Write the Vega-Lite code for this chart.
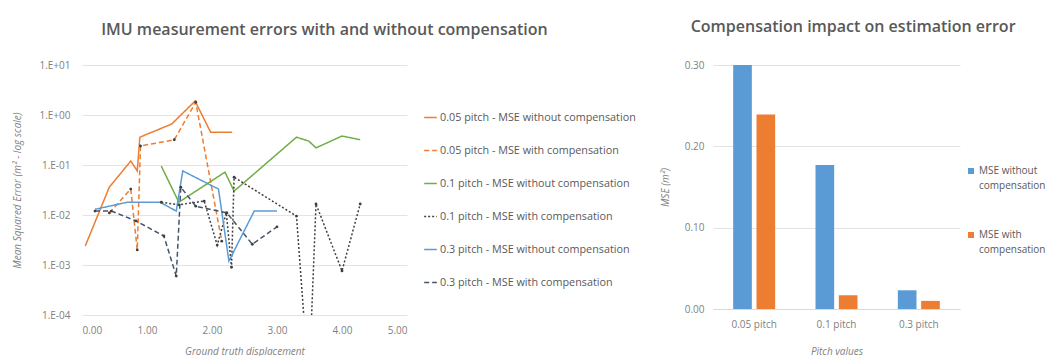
{
  "$schema": "https://vega.github.io/schema/vega-lite/v6.json",
  "padding": {"left": 12, "top": 19, "right": 0, "bottom": 0},
  "spacing": 24,
  "resolve": {"scale": {"color": "independent", "strokeDash": "independent"}, "legend": {"color": "independent", "strokeDash": "independent"}},
  "config": {
    "font": "Open Sans",
    "view": {"stroke": null},
    "axis": {"labelColor": "#7f7f7f", "labelFontSize": 10, "titleColor": "#7f7f7f", "titleFontSize": 10, "titleFontStyle": "italic", "titleFontWeight": "normal", "gridColor": "#e3e3e3", "ticks": false, "domain": false},
    "legend": {"labelColor": "#595959", "labelFontSize": 10.8, "labelLimit": 0, "padding": 0, "titleFontSize": 10},
    "style": {"guide-label": {"lineHeight": 15}},
    "title": {"color": "#595959", "fontSize": 16, "fontWeight": 600, "frame": "bounds", "anchor": "middle"}
  },
  "hconcat": [
    {
      "title": {"text": "IMU measurement errors with and without compensation", "offset": 22},
      "width": 325,
      "height": 250,
      "data": {"values": [
        {"s": "0.05 pitch - MSE without compensation", "x": 0.05, "y": 0.0024},
        {"s": "0.05 pitch - MSE without compensation", "x": 0.42, "y": 0.036},
        {"s": "0.05 pitch - MSE without compensation", "x": 0.75, "y": 0.12},
        {"s": "0.05 pitch - MSE without compensation", "x": 0.85, "y": 0.076},
        {"s": "0.05 pitch - MSE without compensation", "x": 0.89, "y": 0.36},
        {"s": "0.05 pitch - MSE without compensation", "x": 1.38, "y": 0.66},
        {"s": "0.05 pitch - MSE without compensation", "x": 1.74, "y": 1.9},
        {"s": "0.05 pitch - MSE without compensation", "x": 1.98, "y": 0.45},
        {"s": "0.05 pitch - MSE without compensation", "x": 2.31, "y": 0.45},
        {"s": "0.05 pitch - MSE with compensation", "x": 0.42, "y": 0.011},
        {"s": "0.05 pitch - MSE with compensation", "x": 0.75, "y": 0.033},
        {"s": "0.05 pitch - MSE with compensation", "x": 0.85, "y": 0.002},
        {"s": "0.05 pitch - MSE with compensation", "x": 0.9, "y": 0.24},
        {"s": "0.05 pitch - MSE with compensation", "x": 1.42, "y": 0.32},
        {"s": "0.05 pitch - MSE with compensation", "x": 1.75, "y": 1.8},
        {"s": "0.05 pitch - MSE with compensation", "x": 2.15, "y": 0.003},
        {"s": "0.1 pitch - MSE without compensation", "x": 1.22, "y": 0.095},
        {"s": "0.1 pitch - MSE without compensation", "x": 1.49, "y": 0.018},
        {"s": "0.1 pitch - MSE without compensation", "x": 2.2, "y": 0.072},
        {"s": "0.1 pitch - MSE without compensation", "x": 2.34, "y": 0.03},
        {"s": "0.1 pitch - MSE without compensation", "x": 3.3, "y": 0.36},
        {"s": "0.1 pitch - MSE without compensation", "x": 3.49, "y": 0.3},
        {"s": "0.1 pitch - MSE without compensation", "x": 3.6, "y": 0.22},
        {"s": "0.1 pitch - MSE without compensation", "x": 4.0, "y": 0.38},
        {"s": "0.1 pitch - MSE without compensation", "x": 4.28, "y": 0.32},
        {"s": "0.1 pitch - MSE with compensation", "x": 1.22, "y": 0.018},
        {"s": "0.1 pitch - MSE with compensation", "x": 1.49, "y": 0.016},
        {"s": "0.1 pitch - MSE with compensation", "x": 1.88, "y": 0.019},
        {"s": "0.1 pitch - MSE with compensation", "x": 2.08, "y": 0.0025},
        {"s": "0.1 pitch - MSE with compensation", "x": 2.22, "y": 0.011},
        {"s": "0.1 pitch - MSE with compensation", "x": 2.3, "y": 0.0009},
        {"s": "0.1 pitch - MSE with compensation", "x": 2.34, "y": 0.057},
        {"s": "0.1 pitch - MSE with compensation", "x": 3.3, "y": 0.0095},
        {"s": "0.1 pitch - MSE with compensation", "x": 3.49, "y": 0.000004},
        {"s": "0.1 pitch - MSE with compensation", "x": 3.6, "y": 0.0166},
        {"s": "0.1 pitch - MSE with compensation", "x": 4.0, "y": 0.00076},
        {"s": "0.1 pitch - MSE with compensation", "x": 4.28, "y": 0.0166},
        {"s": "0.3 pitch - MSE without compensation", "x": 0.2, "y": 0.013},
        {"s": "0.3 pitch - MSE without compensation", "x": 0.7, "y": 0.018},
        {"s": "0.3 pitch - MSE without compensation", "x": 1.2, "y": 0.018},
        {"s": "0.3 pitch - MSE without compensation", "x": 1.45, "y": 0.012},
        {"s": "0.3 pitch - MSE without compensation", "x": 1.55, "y": 0.076},
        {"s": "0.3 pitch - MSE without compensation", "x": 2.1, "y": 0.033},
        {"s": "0.3 pitch - MSE without compensation", "x": 2.26, "y": 0.0012},
        {"s": "0.3 pitch - MSE without compensation", "x": 2.65, "y": 0.012},
        {"s": "0.3 pitch - MSE without compensation", "x": 3.0, "y": 0.012},
        {"s": "0.3 pitch - MSE with compensation", "x": 0.2, "y": 0.012},
        {"s": "0.3 pitch - MSE with compensation", "x": 0.45, "y": 0.012},
        {"s": "0.3 pitch - MSE with compensation", "x": 0.83, "y": 0.0076},
        {"s": "0.3 pitch - MSE with compensation", "x": 1.26, "y": 0.0038},
        {"s": "0.3 pitch - MSE with compensation", "x": 1.45, "y": 0.0006},
        {"s": "0.3 pitch - MSE with compensation", "x": 1.52, "y": 0.036},
        {"s": "0.3 pitch - MSE with compensation", "x": 1.75, "y": 0.015},
        {"s": "0.3 pitch - MSE with compensation", "x": 2.23, "y": 0.011},
        {"s": "0.3 pitch - MSE with compensation", "x": 2.62, "y": 0.0026},
        {"s": "0.3 pitch - MSE with compensation", "x": 3.0, "y": 0.0058}
      ]},
      "layer": [
        {
          "mark": {"type": "line", "clip": true, "strokeWidth": 1.5},
          "encoding": {
            "x": {"field": "x", "type": "quantitative", "scale": {"domain": [0, 5], "nice": false}, "axis": {"values": [0, 1, 2, 3, 4, 5], "format": ".2f", "grid": false, "labelPadding": 10, "title": "Ground truth displacement", "titlePadding": 11}},
            "y": {"field": "y", "type": "quantitative", "scale": {"type": "log", "domain": [0.0001, 10], "nice": false}, "axis": {"values": [0.0001, 0.001, 0.01, 0.1, 1, 10], "labelExpr": "'1.E' + (datum.value >= 1 ? '+' : '-') + '0' + abs(round(log(datum.value) / LN10))", "labelPadding": 12, "title": "Mean Squared Error (m² - log scale)", "titlePadding": 16}},
            "color": {"field": "s", "type": "nominal", "title": " ",
              "scale": {"domain": ["0.05 pitch - MSE without compensation", "0.05 pitch - MSE with compensation", "0.1 pitch - MSE without compensation", "0.1 pitch - MSE with compensation", "0.3 pitch - MSE without compensation", "0.3 pitch - MSE with compensation"],
                "range": ["#ED7D31", "#ED7D31", "#70AD47", "#404040", "#5B9BD5", "#44546A"]},
              "legend": {"symbolType": "stroke", "symbolSize": 160, "symbolStrokeWidth": 1.5, "rowPadding": 20, "offset": 16, "labelOffset": 2, "titlePadding": 35}},
            "strokeDash": {"field": "s", "type": "nominal", "title": " ",
              "scale": {"domain": ["0.05 pitch - MSE without compensation", "0.05 pitch - MSE with compensation", "0.1 pitch - MSE without compensation", "0.1 pitch - MSE with compensation", "0.3 pitch - MSE without compensation", "0.3 pitch - MSE with compensation"],
                "range": [[1, 0], [5, 3], [1, 0], [2, 2], [1, 0], [5, 3]]}}
          }
        },
        {
          "transform": [{"filter": "indexof(datum.s, 'with compensation') >= 0"}],
          "mark": {"type": "point", "filled": true, "size": 8, "color": "#404040", "opacity": 1, "clip": true},
          "encoding": {
            "x": {"field": "x", "type": "quantitative"},
            "y": {"field": "y", "type": "quantitative"}
          }
        }
      ]
    },
    {
      "title": {"text": "Compensation impact on estimation error", "offset": 25},
      "width": 247,
      "height": 244,
      "data": {"values": [
        {"p": "0.05 pitch", "m": "MSE without compensation", "v": 0.30},
        {"p": "0.05 pitch", "m": "MSE with compensation", "v": 0.239},
        {"p": "0.1 pitch", "m": "MSE without compensation", "v": 0.177},
        {"p": "0.1 pitch", "m": "MSE with compensation", "v": 0.017},
        {"p": "0.3 pitch", "m": "MSE without compensation", "v": 0.023},
        {"p": "0.3 pitch", "m": "MSE with compensation", "v": 0.01}
      ]},
      "mark": {"type": "bar"},
      "encoding": {
        "x": {"field": "p", "type": "nominal", "sort": null, "scale": {"paddingInner": 0.49, "paddingOuter": 0.245}, "axis": {"labelAngle": 0, "labelPadding": 10, "title": "Pitch values", "titlePadding": 17, "domain": true, "domainColor": "#d9d9d9"}},
        "xOffset": {"field": "m", "type": "nominal", "sort": null, "scale": {"paddingInner": 0.2, "paddingOuter": 0}},
        "y": {"field": "v", "type": "quantitative", "scale": {"domain": [0, 0.3], "nice": false}, "axis": {"values": [0, 0.1, 0.2, 0.3], "format": ".2f", "labelPadding": 9, "title": "MSE (m²)", "titlePadding": 14}},
        "color": {"field": "m", "type": "nominal", "sort": null, "title": " ",
          "scale": {"domain": ["MSE without compensation", "MSE with compensation"], "range": ["#5B9BD5", "#ED7D31"]},
          "legend": {"symbolType": "square", "symbolSize": 36, "offset": 6, "rowPadding": 39, "labelOffset": 3, "labelFontSize": 10, "titlePadding": 91,
            "labelExpr": "datum.label == 'MSE without compensation' ? ['MSE without', 'compensation'] : ['MSE with', 'compensation']"}}
      }
    }
  ]
}
